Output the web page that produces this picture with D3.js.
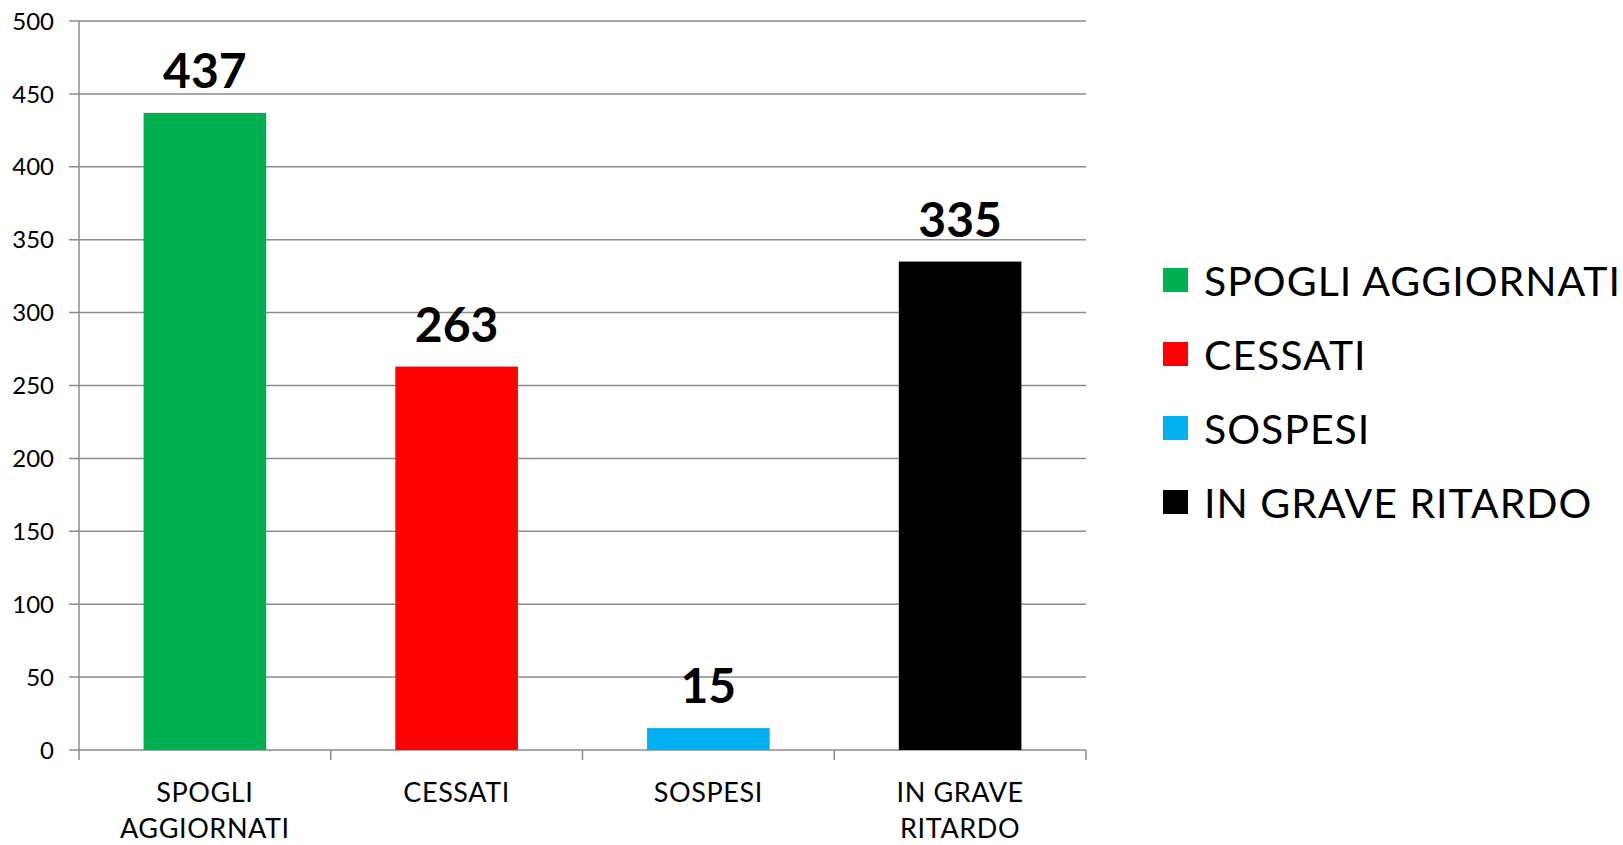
<!DOCTYPE html>
<html>
<head>
<meta charset="utf-8">
<script src="https://cdn.jsdelivr.net/npm/d3@7"></script>
<style>
  body { margin: 0; background: #fff; }
  svg { display: block; font-family: Lato, "Open Sans", sans-serif; }
</style>
</head>
<body>
<div id="chart"></div>
<script>
'use strict';

const categories = ["SPOGLI AGGIORNATI", "CESSATI", "SOSPESI", "IN GRAVE RITARDO"];
const categoryLines = [["SPOGLI", "AGGIORNATI"], ["CESSATI"], ["SOSPESI"], ["IN GRAVE", "RITARDO"]];
const values = [437, 263, 15, 335];
const colors = ["#00B050", "#FF0000", "#00B0F0", "#000000"];
const yTicks = [0, 50, 100, 150, 200, 250, 300, 350, 400, 450, 500];

const W = 1623, H = 845;
const margin = {top: 21, left: 79};
const plotW = 1007, plotH = 729;
const gridColor = "#8c8c8c";

const svg = d3.select("#chart").append("svg")
    .attr("width", W)
    .attr("height", H);

const g = svg.append("g")
    .attr("transform", "translate(" + margin.left + "," + margin.top + ")");

const x = d3.scaleBand()
    .domain(categories)
    .range([0, plotW])
    .padding(0);

const y = d3.scaleLinear()
    .domain([0, 500])
    .range([plotH, 0]);

// gridlines + y ticks
g.append("g")
    .selectAll("line")
    .data(yTicks)
    .join("line")
    .attr("x1", -10)
    .attr("x2", plotW)
    .attr("y1", d => y(d))
    .attr("y2", d => y(d))
    .attr("stroke", gridColor)
    .attr("stroke-width", 1.5);

g.append("g")
    .selectAll("text")
    .data(yTicks)
    .join("text")
    .attr("x", -25)
    .attr("y", d => y(d))
    .attr("dy", "0.36em")
    .attr("text-anchor", "end")
    .attr("font-size", 24)
    .attr("fill", "#000")
    .text(d => d);

// y axis line
g.append("line")
    .attr("x1", 0).attr("x2", 0)
    .attr("y1", 0).attr("y2", plotH + 10)
    .attr("stroke", gridColor)
    .attr("stroke-width", 1.5);

// x tick marks at category boundaries
const bounds = categories.map(c => x(c)).concat([plotW]);
g.append("g")
    .selectAll("line")
    .data(bounds.slice(1))
    .join("line")
    .attr("x1", d => d).attr("x2", d => d)
    .attr("y1", plotH).attr("y2", plotH + 10)
    .attr("stroke", gridColor)
    .attr("stroke-width", 1.5);

// bars
const barW = x.bandwidth() * 0.487;
g.append("g")
    .selectAll("rect")
    .data(values)
    .join("rect")
    .attr("x", (d, i) => x(categories[i]) + (x.bandwidth() - barW) / 2)
    .attr("y", d => y(d))
    .attr("width", barW)
    .attr("height", d => plotH - y(d))
    .attr("fill", (d, i) => colors[i]);

// value labels
g.append("g")
    .selectAll("text")
    .data(values)
    .join("text")
    .attr("x", (d, i) => x(categories[i]) + x.bandwidth() / 2)
    .attr("y", d => y(d) - 25)
    .attr("text-anchor", "middle")
    .attr("font-size", 48)
    .attr("font-weight", "bold")
    .attr("fill", "#000")
    .text(d => d);

// category labels
const catLabels = g.append("g")
    .selectAll("text")
    .data(categoryLines)
    .join("text")
    .attr("x", (d, i) => x(categories[i]) + x.bandwidth() / 2)
    .attr("y", plotH + 52)
    .attr("text-anchor", "middle")
    .attr("font-size", 27)
    .attr("letter-spacing", 0.6)
    .attr("fill", "#000");

catLabels.selectAll("tspan")
    .data(d => d)
    .join("tspan")
    .attr("x", function() { return this.parentNode.getAttribute("x"); })
    .attr("dy", (d, i) => i === 0 ? 0 : 36)
    .text(d => d);

// legend
const legend = svg.append("g")
    .attr("transform", "translate(1163,268)");

const items = legend.selectAll("g")
    .data(categories)
    .join("g")
    .attr("transform", (d, i) => "translate(0," + (i * 74) + ")");

items.append("rect")
    .attr("width", 25)
    .attr("height", 24)
    .attr("fill", (d, i) => colors[i]);

items.append("text")
    .attr("x", 41)
    .attr("y", 28)
    .attr("font-size", 41)
    .attr("letter-spacing", 1)
    .attr("fill", "#000")
    .text(d => d);
</script>
</body>
</html>
